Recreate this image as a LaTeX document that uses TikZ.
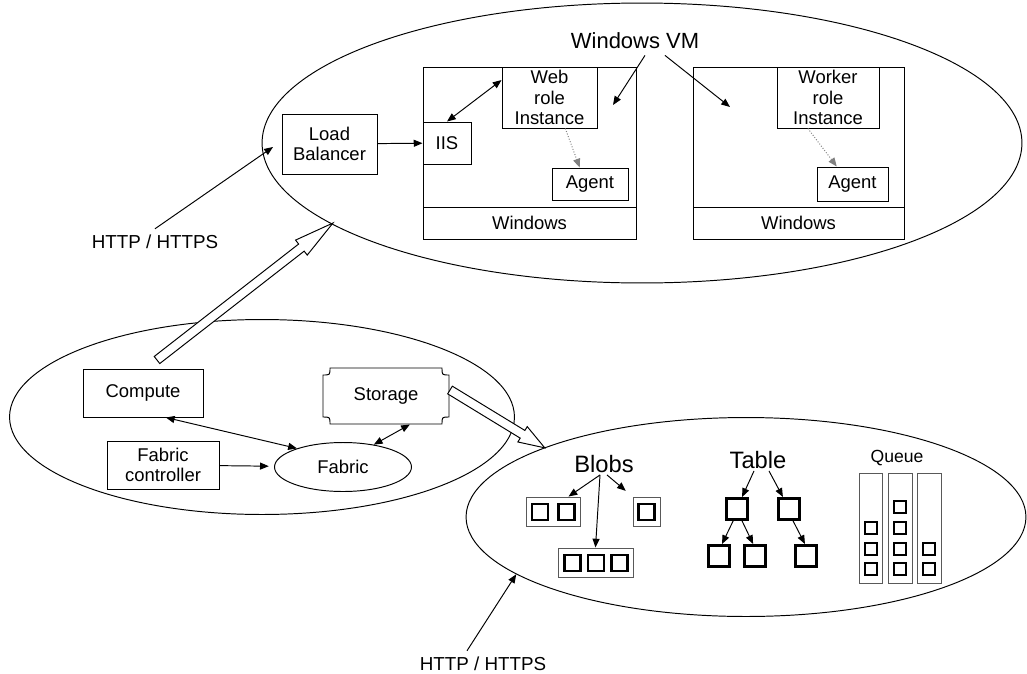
\documentclass[tikz,border=0pt]{standalone}
\usepackage{fontspec}
\setmainfont{Liberation Sans}
\usetikzlibrary{arrows.meta,shapes.geometric}

\tikzset{
  region/.style={ellipse, draw, inner sep=0pt},
  box/.style={draw, fill=white, align=center, inner sep=1pt, font=\fontsize{10.5}{11.5}\selectfont},
  holder/.style={draw=black!65, minimum height=0.58cm, inner sep=0pt},
  blobsq/.style={draw, line width=1.6pt, minimum size=0.32cm, inner sep=0pt},
  tablesq/.style={draw, line width=1.7pt, minimum size=0.42cm, inner sep=0pt},
  queuesq/.style={draw, line width=1.5pt, minimum size=0.235cm, inner sep=0pt},
  arr/.style={-{Triangle[length=5pt,width=4pt]}},
  dblarr/.style={{Triangle[length=5pt,width=4pt]}-{Triangle[length=5pt,width=4pt]}},
  hollow/.style={draw, fill=white},
  small/.style={font=\fontsize{10.7}{12}\selectfont},
  big/.style={font=\fontsize{13.5}{15}\selectfont, inner sep=1pt}
}

\begin{document}
\begin{tikzpicture}[x=0.02cm, y=-0.02cm, line width=0.55pt]
    \useasboundingbox (0,0) rectangle (1027,673);

    % the three regions
    \node[region, minimum width=15.2cm, minimum height=5.6cm] (vmcloud) at (642,143) {};
    \node[region, minimum width=10.1cm, minimum height=3.9cm] (fabcloud) at (262,417) {};
    \node[region, minimum width=11.2cm, minimum height=3.98cm] (storcloud) at (746,517) {};

    % windows VMs
    \node[font=\fontsize{12.5}{14}\selectfont] (vmlabel) at (635,41) {Windows VM};
    \node[box, minimum width=4.26cm, minimum height=3.44cm] (webvm) at (529.5,153) {};
    \node[box, minimum width=4.26cm, minimum height=0.64cm] (webwin) at (529.5,223) {Windows};
    \node[box, minimum width=1.9cm, minimum height=1.22cm] (webrole) at (549.5,97.5) {Web\\role\\Instance};
    \node[box, minimum width=0.96cm, minimum height=0.84cm] (iis) at (447,143) {IIS};
    \node[box, minimum width=1.52cm, minimum height=0.64cm] (webagent) at (590,184) {Agent};

    \node[box, minimum width=4.22cm, minimum height=3.44cm] (workvm) at (798.5,153) {};
    \node[box, minimum width=4.22cm, minimum height=0.64cm] (workwin) at (798.5,223) {Windows};
    \node[box, minimum width=2.04cm, minimum height=1.22cm] (workrole) at (828,97.5) {Worker\\role\\Instance};
    \node[box, minimum width=1.42cm, minimum height=0.68cm] (workagent) at (852.5,184) {Agent};

    \node[box, minimum width=1.9cm, minimum height=1.2cm] (lb) at (329.5,144) {Load\\Balancer};

    \coordinate (webin) at (613,105);
    \coordinate (workin) at (730,107);
    \draw[arr] ([xshift=0.2cm]vmlabel.south) -- (webin);
    \draw[arr] ([xshift=0.6cm]vmlabel.south) -- (workin);
    \draw[arr] (lb) -- (iis);
    \draw[dblarr] (iis.north) -- (webrole.160);
    \draw[arr, densely dotted, gray] (webrole.-63) -- (webagent.122);
    \draw[arr, densely dotted, gray] (workrole.-123) -- (workagent.132);

    % http in
    \node[small] (httptop) at (155,242) {HTTP / HTTPS};
    \coordinate (lbin) at (273,147);
    \draw[arr] (httptop.north) -- (lbin);
    \node[small] (httpbot) at (483,664) {HTTP / HTTPS};
    \draw[arr] ([xshift=-0.32cm]httpbot.north) -- (storcloud.-166);

    % fabric
    \node[box, minimum width=2.4cm, minimum height=0.96cm] (compute) at (143,393) {Compute};
    \node[box, minimum width=2.24cm, minimum height=0.96cm] (fabctl) at (163,465) {Fabric\\controller};
    \node[box, ellipse, minimum width=2.74cm, minimum height=0.98cm] (fabric) at (343,467) {Fabric};
    \node[box, draw=none, fill=none, minimum width=2.52cm, minimum height=1.12cm] (storage) at (386,396) {Storage};
    \draw (330,368) -- (442,368) .. controls (442,375) .. (449,375) -- (449,417)
          .. controls (442,417) .. (442,424) -- (330,424) .. controls (330,417) .. (323,417)
          -- (323,375) .. controls (330,375) .. (330,368) -- cycle;

    \draw[dblarr] (compute.-47) -- (fabric.158);
    \draw[arr, shorten >=3pt] (fabctl) -- (fabric);
    \draw[dblarr] (fabric.36) -- (storage.-50);

    % hollow arrows
    \coordinate (cmptail) at (157,360);
    \coordinate (stortail) at (450,390);
    \draw[hollow, shift={(cmptail)}, rotate=37.9] (0,-4.5) -- (183,-4.5) -- (183,-9.5) -- (223,0)
          -- (183,9.5) -- (183,4.5) -- (0,4.5) -- cycle;
    \draw[hollow, shift={(stortail)}, rotate=-31.4] (0,-4.5) -- (85,-4.5) -- (85,-9) -- (111,0)
          -- (85,9) -- (85,4.5) -- (0,4.5) -- cycle;

    % blobs
    \node[big] (blobs) at (604,464) {Blobs};
    \node[holder, minimum width=1.08cm] (blobl) at (553,511.5) {};
    \node[holder, minimum width=0.54cm] (blobr) at (646.5,511.5) {};
    \node[holder, minimum width=1.5cm] (blobb) at (595.5,562.5) {};
    \node[blobsq] (bl1) at (540,512) {};
    \node[blobsq] (bl2) at (566.5,512) {};
    \node[blobsq] (br1) at (646.5,512) {};
    \node[blobsq] (bb1) at (572.5,563) {};
    \node[blobsq] (bb2) at (596,563) {};
    \node[blobsq] (bb3) at (619.5,563) {};
    \draw[arr] ([xshift=-0.08cm]blobs.south) -- (blobl.44);
    \draw[arr] ([xshift=-0.08cm]blobs.south) -- (blobb.north);
    \draw[arr, shorten >=5pt] ([xshift=0.06cm]blobs.south) -- (blobr.north west);

    % table
    \node[big] (table) at (758,460) {Table};
    \node[tablesq] (t1) at (737,509) {};
    \node[tablesq] (t2) at (788.5,509) {};
    \node[tablesq] (t3) at (719,556) {};
    \node[tablesq] (t4) at (755,556) {};
    \node[tablesq] (t5) at (806,556) {};
    \draw[arr] ([xshift=-0.08cm]table.south) -- (t1.67);
    \draw[arr] ([xshift=0.22cm]table.south) -- (t2.115);
    \draw[arr] (t1.-108) -- (t3.76);
    \draw[arr] (t1.-67) -- (t4.99);
    \draw[arr] (t2.-69) -- (t5.95);

    % queue
    \node[font=\fontsize{10}{12}\selectfont, inner sep=1pt] (queue) at (897,458) {Queue};
    \node[holder, minimum width=0.46cm, minimum height=2.2cm] (qcol1) at (870.5,528) {};
    \node[holder, minimum width=0.48cm, minimum height=2.2cm] (qcol2) at (900,528) {};
    \node[holder, minimum width=0.48cm, minimum height=2.2cm] (qcol3) at (929,528) {};
    \node[queuesq] (q11) at (871,528) {};
    \node[queuesq] (q12) at (871,549) {};
    \node[queuesq] (q13) at (871,569) {};
    \node[queuesq] (q21) at (900,507) {};
    \node[queuesq] (q22) at (900,528) {};
    \node[queuesq] (q23) at (900,549) {};
    \node[queuesq] (q24) at (900,569) {};
    \node[queuesq] (q31) at (929,549) {};
    \node[queuesq] (q32) at (929,569) {};
\end{tikzpicture}
\end{document}
